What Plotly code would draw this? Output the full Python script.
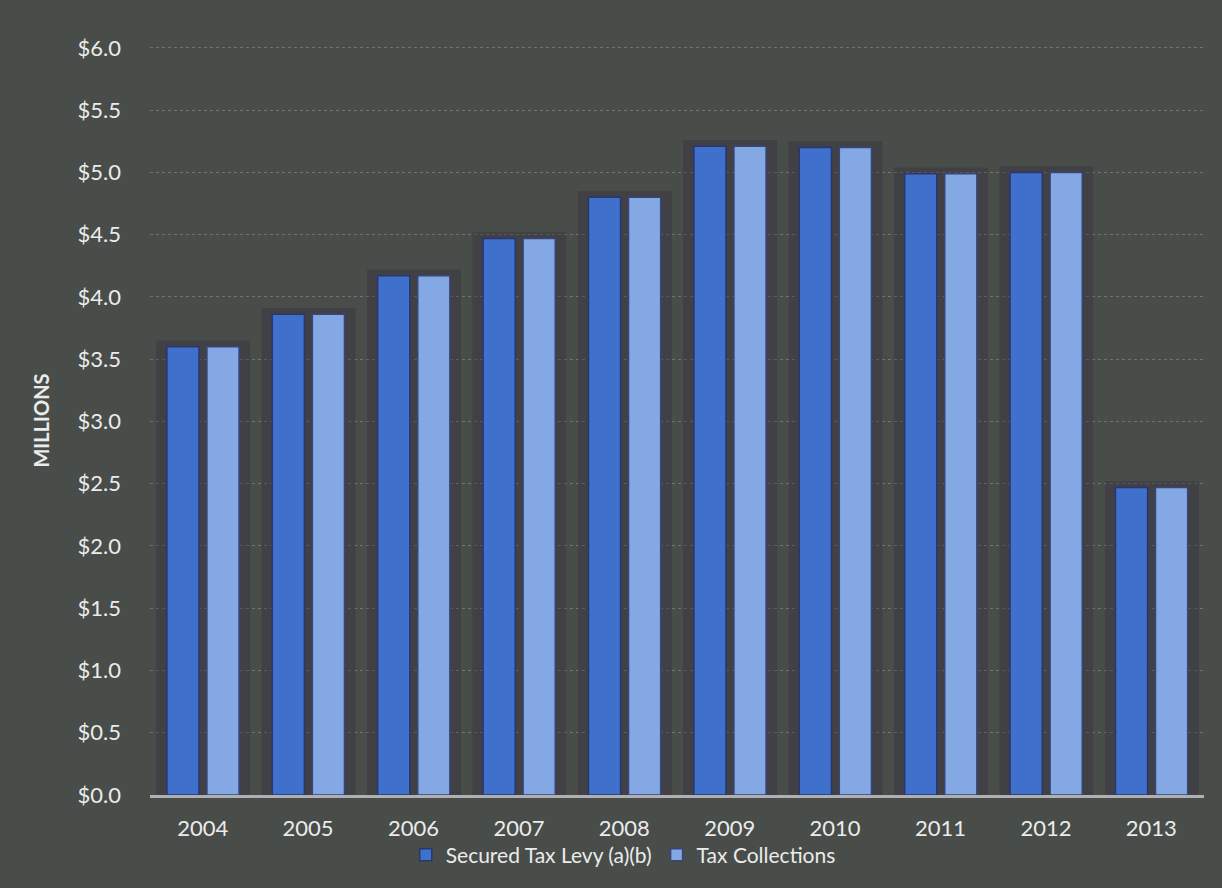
import plotly.graph_objects as go

years = ["2004", "2005", "2006", "2007", "2008", "2009", "2010", "2011", "2012", "2013"]
levy = [3.60, 3.86, 4.17, 4.47, 4.80, 5.21, 5.20, 4.99, 5.00, 2.47]
collections = [3.60, 3.86, 4.17, 4.47, 4.80, 5.21, 5.20, 4.99, 5.00, 2.47]
y_ticks = [0, 0.5, 1.0, 1.5, 2.0, 2.5, 3.0, 3.5, 4.0, 4.5, 5.0, 5.5, 6.0]
y_tick_labels = ["$%.1f" % v for v in y_ticks]

FONT = "Lato, 'Open Sans', sans-serif"
BG = "rgb(72,77,74)"
DARK = "rgb(62,112,204)"
LIGHT = "rgb(132,168,228)"

shadow_tops = [max(a, b) + 0.05 for a, b in zip(levy, collections)]

fig = go.Figure()
fig.add_trace(go.Bar(
    x=years, y=shadow_tops, width=0.89, offset=-0.44,
    marker=dict(color="rgba(48,40,62,0.33)", line=dict(width=0)),
    showlegend=False, hoverinfo="skip",
))
fig.add_trace(go.Bar(
    x=years, y=levy, name="Secured Tax Levy (a)(b)", width=0.305, offset=-0.34,
    marker=dict(color=DARK, line=dict(color="rgb(40,55,110)", width=1.5)),
))
fig.add_trace(go.Bar(
    x=years, y=collections, name="Tax Collections", width=0.305, offset=0.04,
    marker=dict(color=LIGHT, line=dict(color="rgb(55,70,120)", width=1.5)),
))

fig.update_layout(
    width=1222, height=888,
    barmode="overlay",
    paper_bgcolor=BG, plot_bgcolor=BG,
    margin=dict(l=150, r=18, t=46, b=93, autoexpand=False),
    font=dict(family=FONT, color="rgb(235,235,235)", size=22),
    legend=dict(
        orientation="h", xref="container", yref="container",
        x=0.51, xanchor="center", y=0.037, yanchor="middle",
        font=dict(size=21, color="rgb(235,235,235)"),
        bgcolor="rgba(0,0,0,0)", traceorder="normal", itemwidth=30,
    ),
    showlegend=True,
)
fig.update_xaxes(
    type="category", range=[-0.5, 9.5], showgrid=False, automargin=False,
    showline=True, linecolor="rgb(175,175,180)", linewidth=3,
    ticks="", tickfont=dict(size=22), ticklabelstandoff=12,
)
fig.update_yaxes(
    range=[0, 6.015], tickvals=y_ticks, ticktext=y_tick_labels, automargin=False,
    showgrid=True, gridcolor="rgba(190,190,190,0.35)", gridwidth=1, griddash="dot",
    zeroline=False, showline=False, ticks="", tickfont=dict(size=22),
    ticklabelstandoff=28,
    title=dict(text="<b>MILLIONS</b>", font=dict(size=20), standoff=22),
)

fig.write_html("out.html")
